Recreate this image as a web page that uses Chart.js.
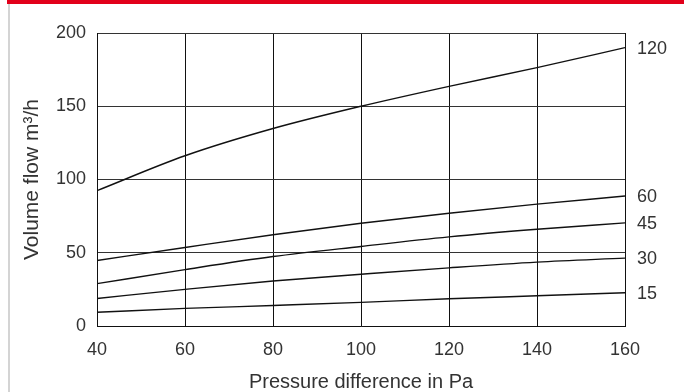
<!DOCTYPE html>
<html>
<head>
<meta charset="utf-8">
<script src="https://cdn.jsdelivr.net/npm/chart.js@4"></script>
<style>
  html, body { margin: 0; padding: 0; background: #fff; }
  #wrap { position: relative; width: 684px; height: 392px; overflow: hidden; }
  #topbar { position: absolute; left: 7px; top: 0; width: 677px; height: 4px; background: #e2001a; }
  #leftline { position: absolute; left: 8px; top: 4px; width: 2px; height: 388px; background: #d4d4d4; }
  canvas { position: absolute; left: 0; top: 0; }
</style>
</head>
<body>
<div id="wrap">
  <div id="topbar"></div>
  <div id="leftline"></div>
  <canvas id="flowChart" width="684" height="392"></canvas>
</div>
<script>
// pressure difference (Pa)
const pressure = [40, 60, 80, 100, 120, 140, 160];

// volume flow (m³/h) per setting
const flow120 = [92.4, 116.2, 134.8, 150.0, 163.6, 176.4, 190.0];
const flow60  = [44.7, 53.6, 62.3, 70.1, 77.0, 83.2, 88.7];
const flow45  = [28.9, 38.5, 47.4, 54.3, 60.8, 66.0, 70.4];
const flow30  = [18.8, 25.0, 30.7, 35.3, 39.7, 43.6, 46.3];
const flow15  = [9.4, 12.0, 14.0, 16.1, 18.6, 20.6, 22.7];

const seriesLabels = ["120", "60", "45", "30", "15"];
const yTicks = [0, 50, 100, 150, 200];
const xTicks = [40, 60, 80, 100, 120, 140, 160];

const textColor = '#333';
const fontFamily = '"Liberation Sans", Arial, sans-serif';

function toPoints(values) {
    return pressure.map((p, i) => ({ x: p, y: values[i] }));
}

function makeSet(label, values) {
    return {
        label: label,
        data: toPoints(values),
        borderColor: '#111',
        borderWidth: 1.4,
        pointRadius: 0,
        fill: false,
        cubicInterpolationMode: 'monotone'
    };
}

// writes the setting value just right of each curve's end
const endLabels = {
    id: 'endLabels',
    afterDatasetsDraw(chart) {
        const c = chart.ctx;
        const yScale = chart.scales.y;
        c.save();
        c.font = '18px ' + fontFamily;
        c.fillStyle = textColor;
        c.textAlign = 'left';
        c.textBaseline = 'middle';
        chart.data.datasets.forEach(ds => {
            const last = ds.data[ds.data.length - 1];
            c.fillText(ds.label, chart.chartArea.right + 12, yScale.getPixelForValue(last.y) + 1);
        });
        c.restore();
    }
};

const ctx = document.getElementById('flowChart').getContext('2d');
const chart = new Chart(ctx, {
    type: 'line',
    data: {
        datasets: [
            makeSet(seriesLabels[0], flow120),
            makeSet(seriesLabels[1], flow60),
            makeSet(seriesLabels[2], flow45),
            makeSet(seriesLabels[3], flow30),
            makeSet(seriesLabels[4], flow15)
        ]
    },
    options: {
        responsive: false,
        animation: false,
        layout: { padding: { left: 0, right: 59, top: 33, bottom: 0 } },
        plugins: {
            legend: { display: false },
            tooltip: { enabled: false }
        },
        scales: {
            x: {
                type: 'linear',
                min: 40,
                max: 160,
                afterBuildTicks: axis => { axis.ticks = xTicks.map(v => ({ value: v })); },
                afterFit: axis => { axis.height = 66; },
                grid: { color: '#111', lineWidth: 1, drawTicks: false },
                border: { color: '#111', width: 1 },
                ticks: { color: textColor, padding: 13, font: { size: 18, family: fontFamily } },
                title: {
                    display: true,
                    text: 'Pressure difference in Pa',
                    color: textColor,
                    font: { size: 20, family: fontFamily },
                    padding: { top: 0, bottom: -2 }
                }
            },
            y: {
                min: 0,
                max: 200,
                afterBuildTicks: axis => { axis.ticks = yTicks.map(v => ({ value: v })); },
                afterFit: axis => { axis.width = 97; },
                grid: { color: '#333', lineWidth: 1, drawTicks: false },
                border: { color: '#111', width: 1 },
                ticks: { color: textColor, padding: 11, font: { size: 18, family: fontFamily } },
                title: {
                    display: true,
                    text: 'Volume flow m³/h',
                    color: textColor,
                    font: { size: 21, family: fontFamily },
                    padding: { top: 20, bottom: 0 }
                }
            }
        }
    },
    plugins: [endLabels]
});
</script>
</body>
</html>
